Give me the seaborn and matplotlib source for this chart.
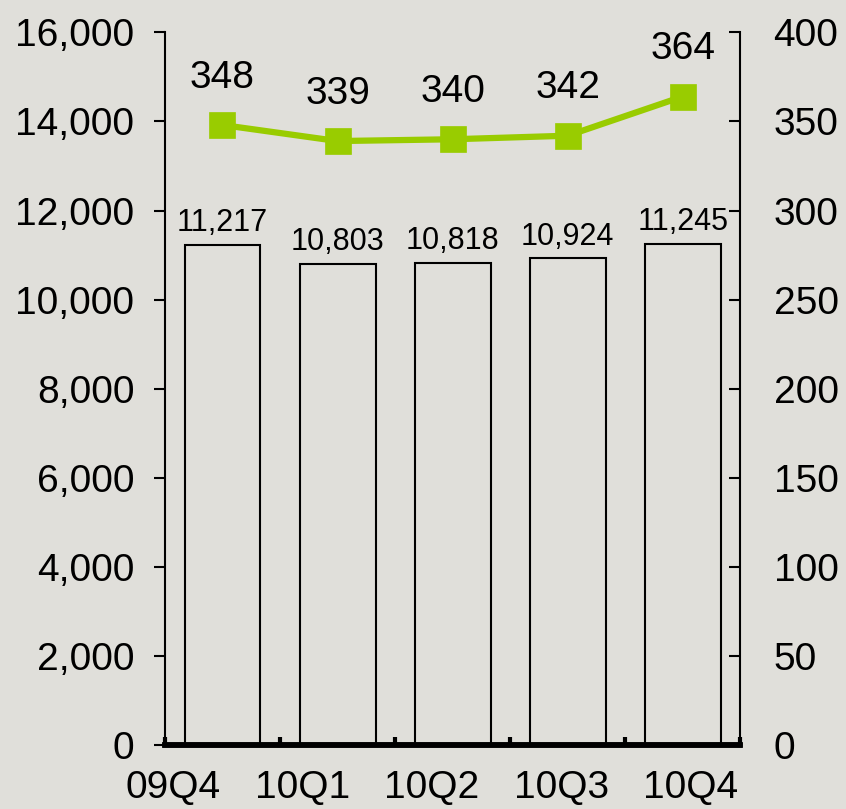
import numpy as np
import pandas as pd
import seaborn as sns
import matplotlib.pyplot as plt
from matplotlib.ticker import FixedLocator

# data
quarters = ["09Q4", "10Q1", "10Q2", "10Q3", "10Q4"]
bar_values = [11217, 10803, 10818, 10924, 11245]
line_values = [348, 339, 340, 342, 364]

bg = "#E0DFDA"
green = "#99CC00"

sns.set_theme(style="white")
plt.rcParams["font.family"] = ["Liberation Sans", "DejaVu Sans"]
plt.rcParams["text.color"] = "black"
plt.rcParams["xtick.color"] = "black"
plt.rcParams["ytick.color"] = "black"

df = pd.DataFrame({"q": quarters, "bars": bar_values, "line": line_values})

fig = plt.figure(figsize=(8.46, 8.09), dpi=100, facecolor=bg)
ax = fig.add_axes([0.195, 0.079, 0.68, 0.881])
ax.set_facecolor(bg)

sns.barplot(data=df, x="q", y="bars", color=bg, edgecolor="black",
            linewidth=1.5, width=0.66, saturation=1, ax=ax)
ax.bar_label(ax.containers[0], labels=[f"{v:,}" for v in bar_values],
             padding=5, fontsize=22, color="black")

ax2 = ax.twinx()
sns.pointplot(data=df, x="q", y="line", color=green, markers="s",
              markersize=16, linewidth=4.5, ax=ax2)
for i, v in enumerate(line_values):
    ax2.annotate(str(v), (i, v), xytext=(0, 34), textcoords="offset points",
                 ha="center", va="center", fontsize=28, color="black")

ax.set_ylim(0, 16000)
ax2.set_ylim(0, 400)
ax.set_xlim(-0.5, 4.5)

ax.set_yticks(np.arange(0, 16001, 2000))
ax.set_yticklabels([f"{v:,}" for v in range(0, 16001, 2000)])
ax2.set_yticks(np.arange(0, 401, 50))

# category labels sit a little spread out, as in the original
ax.set_xticks(np.arange(5) * 1.125 - 0.43)
ax.set_xticklabels(quarters)
ax.xaxis.set_minor_locator(FixedLocator(np.arange(-0.5, 5, 1)))
ax.tick_params(axis="x", which="major", length=0, pad=18, labelsize=28,
               labelcolor="black")
ax.tick_params(axis="x", which="minor", direction="in", length=6, width=3,
               color="black", bottom=True)
ax.tick_params(axis="y", direction="out", length=8, width=1.5, color="black",
               left=True, pad=14, labelsize=28, labelcolor="black")
ax2.tick_params(axis="y", direction="in", length=8, width=1.5, color="black",
                right=True, pad=24, labelsize=28, labelcolor="black")

ax.set_xlabel("")
ax.set_ylabel("")
ax2.set_xlabel("")
ax2.set_ylabel("")

for a in (ax, ax2):
    a.spines["top"].set_visible(False)
    a.spines["left"].set_linewidth(1.5)
    a.spines["right"].set_linewidth(1.5)
    a.spines["left"].set_color("black")
    a.spines["right"].set_color("black")
    a.spines["bottom"].set_linewidth(4)
    a.spines["bottom"].set_color("black")
ax2.spines["left"].set_visible(False)
ax.spines["right"].set_visible(False)

fig.savefig("out.png", dpi=100, facecolor=bg)
